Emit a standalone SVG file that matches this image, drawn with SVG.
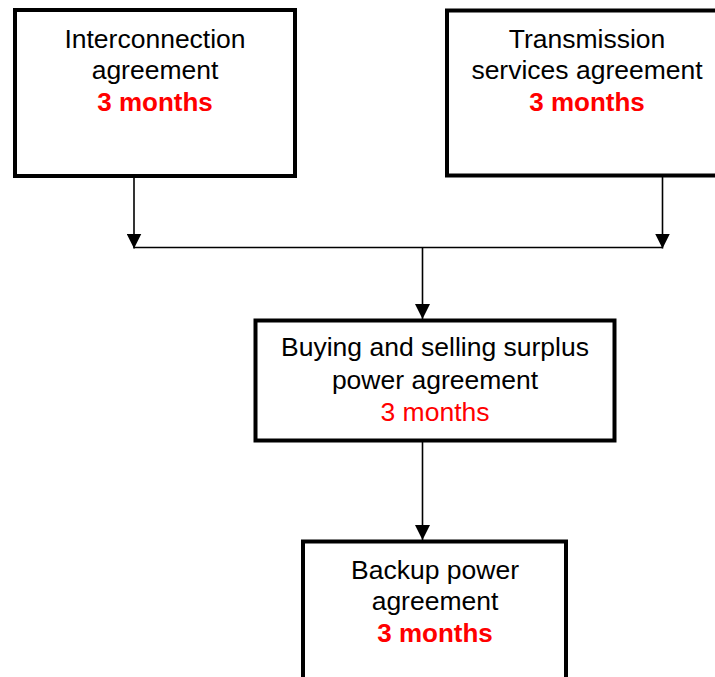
<svg xmlns="http://www.w3.org/2000/svg" width="715" height="677" viewBox="0 0 715 677">
<style>
.box{fill:#fff;stroke:#000;stroke-width:4}
.t{font-family:"Liberation Sans",Arial,sans-serif;font-size:26.5px;text-anchor:middle;fill:#000}
.r{fill:#ff0000}
.b{font-weight:bold;font-size:26px}
.c{fill:none;stroke:#000;stroke-width:1.6}
</style>
<defs>
<marker id="ah" markerUnits="userSpaceOnUse" markerWidth="15" markerHeight="15" viewBox="0 0 15 15" refX="15" refY="7.5" orient="auto">
<path d="M0,0 L15,7.5 L0,15 z" fill="#000"/>
</marker>
</defs>
<rect width="715" height="677" fill="#fff"/>
<g id="connectors">
<line class="c" x1="134" y1="177" x2="134" y2="248.5" marker-end="url(#ah)"/>
<line class="c" x1="662.5" y1="177" x2="662.5" y2="248.5" marker-end="url(#ah)"/>
<line class="c" x1="134" y1="247.5" x2="662.5" y2="247.5"/>
<line class="c" x1="422.5" y1="247.5" x2="422.5" y2="319" marker-end="url(#ah)"/>
<line class="c" x1="422.5" y1="441" x2="422.5" y2="540" marker-end="url(#ah)"/>
</g>
<g id="interconnection">
<rect class="box" x="15" y="10" width="280" height="166"/>
<text class="t" x="155" y="47.5">Interconnection</text>
<text class="t" x="155" y="79">agreement</text>
<text class="t r b" x="155" y="110.5">3 months</text>
</g>
<g id="transmission">
<rect class="box" x="447" y="10.5" width="280" height="165"/>
<text class="t" x="587" y="47.5">Transmission</text>
<text class="t" x="587" y="79">services agreement</text>
<text class="t r b" x="587" y="111">3 months</text>
</g>
<g id="surplus">
<rect class="box" x="255.5" y="320.5" width="359" height="120"/>
<text class="t" x="435" y="356">Buying and selling surplus</text>
<text class="t" x="435" y="389">power agreement</text>
<text class="t r" x="435" y="420.5">3 months</text>
</g>
<g id="backup">
<rect class="box" x="303" y="541.5" width="263" height="160"/>
<text class="t" x="435" y="579">Backup power</text>
<text class="t" x="435" y="610">agreement</text>
<text class="t r b" x="435" y="641.5">3 months</text>
</g>
</svg>
